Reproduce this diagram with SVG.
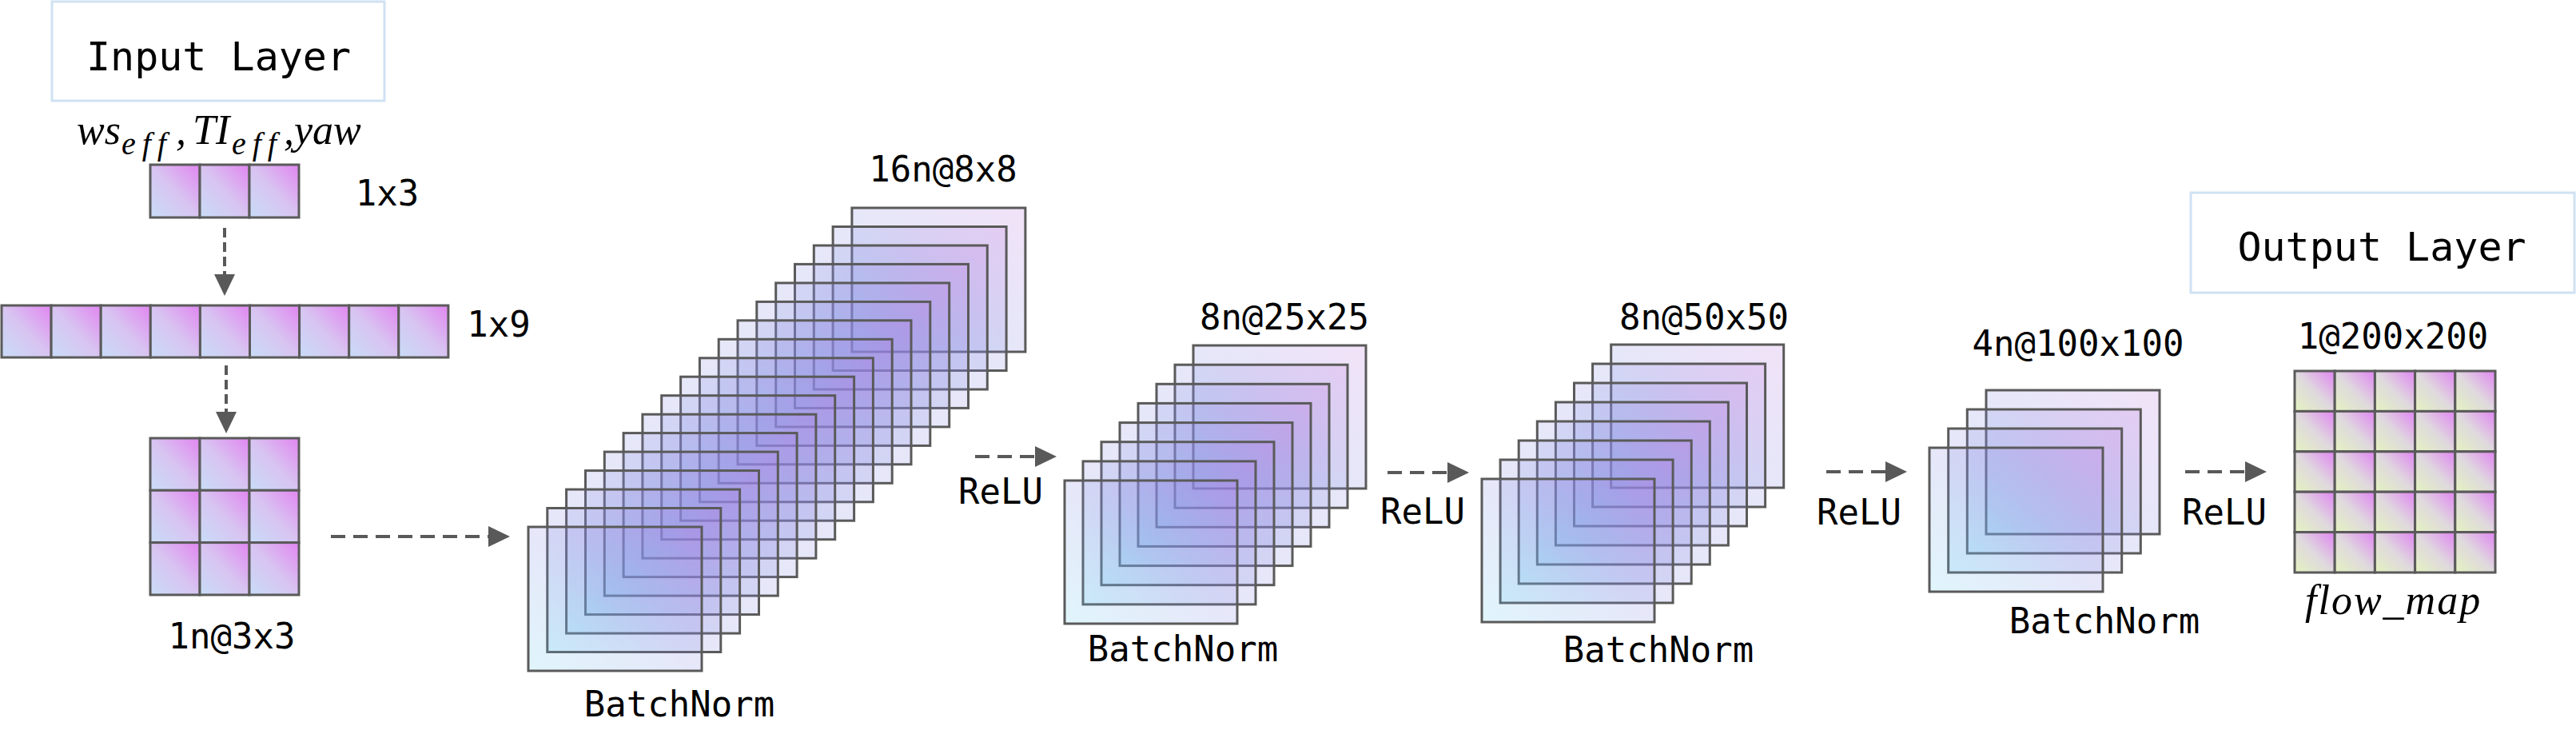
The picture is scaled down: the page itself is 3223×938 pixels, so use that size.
<svg xmlns="http://www.w3.org/2000/svg" width="3223" height="938" viewBox="0 0 3223 938">
<defs>
<style>
.lb{font-family:"DejaVu Sans Mono",monospace;font-size:44px;fill:#000;text-anchor:middle}
.tt{font-family:"DejaVu Sans Mono",monospace;font-size:50px;fill:#000;text-anchor:middle}
.m{font-family:"Liberation Serif","Times New Roman",serif;font-style:italic;fill:#000}
.box{fill:#fff;stroke:#cfe2f3;stroke-width:3}
.ci{fill:url(#gIn);stroke:#5a5a5a;stroke-width:3}
.co{fill:url(#gOut);stroke:#5a5a5a;stroke-width:3}
.fm{fill:url(#gMap);stroke:#5a5a5a;stroke-width:3}
.ar{fill:none;stroke:#595959;stroke-width:4;stroke-dasharray:18 10;marker-end:url(#ah)}
.av{fill:none;stroke:#595959;stroke-width:4;stroke-dasharray:12 6;marker-end:url(#ah)}
</style>
<linearGradient id="gIn" x1="0" y1="1" x2="1" y2="0">
<stop offset="0" stop-color="#c8dcf7"/>
<stop offset="0.5" stop-color="#d8c4f1"/>
<stop offset="1" stop-color="#e185f0"/>
</linearGradient>
<linearGradient id="gOut" x1="0" y1="1" x2="1" y2="0">
<stop offset="0" stop-color="#e3f3c0"/>
<stop offset="0.5" stop-color="#dfd8de"/>
<stop offset="1" stop-color="#e084f2"/>
</linearGradient>
<linearGradient id="gMap" x1="0" y1="1" x2="1" y2="0">
<stop offset="0" stop-color="#64cdf0" stop-opacity="0.2"/>
<stop offset="0.5" stop-color="#8287e1" stop-opacity="0.2"/>
<stop offset="1" stop-color="#b96edc" stop-opacity="0.2"/>
</linearGradient>
<marker id="ah" markerUnits="userSpaceOnUse" markerWidth="27" markerHeight="26" refX="17" refY="13" orient="auto" viewBox="0 0 27 26">
<path d="M0,0 L27,13 L0,26 z" fill="#595959"/>
</marker>
</defs>
<rect width="3223" height="938" fill="#fff"/>

<g id="input-layer">
<rect class="box" x="65" y="2" width="416" height="124"/>
<text class="tt" x="273.5" y="88">Input Layer</text>
</g>

<g id="input-vars">
<text class="m" y="180"><tspan x="96" font-size="52">ws</tspan><tspan x="152" y="193" font-size="40" letter-spacing="8">eff</tspan><tspan x="220" y="180" font-size="52">,</tspan><tspan x="241" font-size="52">TI</tspan><tspan x="290" y="193" font-size="40" letter-spacing="8">eff</tspan><tspan x="355" y="180" font-size="52">,</tspan><tspan x="368" font-size="52">yaw</tspan></text>
</g>

<g id="vec1x3">
<rect class="ci" x="188" y="206" width="62" height="66"/>
<rect class="ci" x="250" y="206" width="62" height="66"/>
<rect class="ci" x="312" y="206" width="62" height="66"/>
<text class="lb" x="484.5" y="257">1x3</text>
</g>

<g id="vec1x9">
<rect class="ci" x="2" y="382" width="62.1" height="65"/>
<rect class="ci" x="64.1" y="382" width="62.1" height="65"/>
<rect class="ci" x="126.2" y="382" width="62.1" height="65"/>
<rect class="ci" x="188.3" y="382" width="62.1" height="65"/>
<rect class="ci" x="250.4" y="382" width="62.1" height="65"/>
<rect class="ci" x="312.5" y="382" width="62.1" height="65"/>
<rect class="ci" x="374.6" y="382" width="62.1" height="65"/>
<rect class="ci" x="436.7" y="382" width="62.1" height="65"/>
<rect class="ci" x="498.8" y="382" width="62.1" height="65"/>
<text class="lb" x="624" y="421">1x9</text>
</g>

<g id="grid3x3">
<rect class="ci" x="188" y="548" width="62" height="65.3"/>
<rect class="ci" x="250" y="548" width="62" height="65.3"/>
<rect class="ci" x="312" y="548" width="62" height="65.3"/>
<rect class="ci" x="188" y="613.3" width="62" height="65.3"/>
<rect class="ci" x="250" y="613.3" width="62" height="65.3"/>
<rect class="ci" x="312" y="613.3" width="62" height="65.3"/>
<rect class="ci" x="188" y="678.6" width="62" height="65.4"/>
<rect class="ci" x="250" y="678.6" width="62" height="65.4"/>
<rect class="ci" x="312" y="678.6" width="62" height="65.4"/>
<text class="lb" x="290" y="811">1n@3x3</text>
</g>

<g id="stack-16n">
<rect class="fm" x="1065.9" y="260.0" width="217" height="180"/>
<rect class="fm" x="1042.1" y="283.5" width="217" height="180"/>
<rect class="fm" x="1018.3" y="307.0" width="217" height="180"/>
<rect class="fm" x="994.5" y="330.4" width="217" height="180"/>
<rect class="fm" x="970.7" y="353.9" width="217" height="180"/>
<rect class="fm" x="946.8" y="377.4" width="217" height="180"/>
<rect class="fm" x="923.0" y="400.8" width="217" height="180"/>
<rect class="fm" x="899.2" y="424.3" width="217" height="180"/>
<rect class="fm" x="875.4" y="447.8" width="217" height="180"/>
<rect class="fm" x="851.6" y="471.2" width="217" height="180"/>
<rect class="fm" x="827.7" y="494.7" width="217" height="180"/>
<rect class="fm" x="803.9" y="518.2" width="217" height="180"/>
<rect class="fm" x="780.1" y="541.6" width="217" height="180"/>
<rect class="fm" x="756.3" y="565.1" width="217" height="180"/>
<rect class="fm" x="732.5" y="588.6" width="217" height="180"/>
<rect class="fm" x="708.6" y="612.1" width="217" height="180"/>
<rect class="fm" x="684.8" y="635.5" width="217" height="180"/>
<rect class="fm" x="661.0" y="659.0" width="217" height="180"/>
<text class="lb" x="1180" y="227">16n@8x8</text>
<text class="lb" x="850" y="896">BatchNorm</text>
</g>

<g id="stack-8n-25">
<rect class="fm" x="1493" y="432" width="216" height="179"/>
<rect class="fm" x="1470" y="456.2" width="216" height="179"/>
<rect class="fm" x="1447" y="480.3" width="216" height="179"/>
<rect class="fm" x="1424" y="504.4" width="216" height="179"/>
<rect class="fm" x="1401" y="528.6" width="216" height="179"/>
<rect class="fm" x="1378" y="552.7" width="216" height="179"/>
<rect class="fm" x="1355" y="576.9" width="216" height="179"/>
<rect class="fm" x="1332" y="601" width="216" height="179"/>
<text class="lb" x="1607" y="412">8n@25x25</text>
<text class="lb" x="1480" y="827">BatchNorm</text>
</g>

<g id="stack-8n-50">
<rect class="fm" x="2015.7" y="431" width="216" height="179"/>
<rect class="fm" x="1992.6" y="455" width="216" height="179"/>
<rect class="fm" x="1969.5" y="479" width="216" height="179"/>
<rect class="fm" x="1946.4" y="503" width="216" height="179"/>
<rect class="fm" x="1923.3" y="527" width="216" height="179"/>
<rect class="fm" x="1900.2" y="551" width="216" height="179"/>
<rect class="fm" x="1877.1" y="575" width="216" height="179"/>
<rect class="fm" x="1854" y="599" width="216" height="179"/>
<text class="lb" x="2132" y="412">8n@50x50</text>
<text class="lb" x="2075" y="828">BatchNorm</text>
</g>

<g id="stack-4n">
<rect class="fm" x="2485" y="488" width="217" height="180"/>
<rect class="fm" x="2461.3" y="512" width="217" height="180"/>
<rect class="fm" x="2437.7" y="536" width="217" height="180"/>
<rect class="fm" x="2414" y="560" width="217" height="180"/>
<text class="lb" x="2600" y="445">4n@100x100</text>
<text class="lb" x="2633" y="792">BatchNorm</text>
</g>

<g id="output-layer">
<rect class="box" x="2741" y="241" width="480" height="125"/>
<text class="tt" x="2980" y="326">Output Layer</text>
</g>

<g id="output-grid">
<rect class="co" x="2871" y="464" width="50.2" height="50.4"/>
<rect class="co" x="2921.2" y="464" width="50.2" height="50.4"/>
<rect class="co" x="2971.4" y="464" width="50.2" height="50.4"/>
<rect class="co" x="3021.6" y="464" width="50.2" height="50.4"/>
<rect class="co" x="3071.8" y="464" width="50.2" height="50.4"/>
<rect class="co" x="2871" y="514.4" width="50.2" height="50.4"/>
<rect class="co" x="2921.2" y="514.4" width="50.2" height="50.4"/>
<rect class="co" x="2971.4" y="514.4" width="50.2" height="50.4"/>
<rect class="co" x="3021.6" y="514.4" width="50.2" height="50.4"/>
<rect class="co" x="3071.8" y="514.4" width="50.2" height="50.4"/>
<rect class="co" x="2871" y="564.8" width="50.2" height="50.4"/>
<rect class="co" x="2921.2" y="564.8" width="50.2" height="50.4"/>
<rect class="co" x="2971.4" y="564.8" width="50.2" height="50.4"/>
<rect class="co" x="3021.6" y="564.8" width="50.2" height="50.4"/>
<rect class="co" x="3071.8" y="564.8" width="50.2" height="50.4"/>
<rect class="co" x="2871" y="615.2" width="50.2" height="50.4"/>
<rect class="co" x="2921.2" y="615.2" width="50.2" height="50.4"/>
<rect class="co" x="2971.4" y="615.2" width="50.2" height="50.4"/>
<rect class="co" x="3021.6" y="615.2" width="50.2" height="50.4"/>
<rect class="co" x="3071.8" y="615.2" width="50.2" height="50.4"/>
<rect class="co" x="2871" y="665.6" width="50.2" height="50.4"/>
<rect class="co" x="2921.2" y="665.6" width="50.2" height="50.4"/>
<rect class="co" x="2971.4" y="665.6" width="50.2" height="50.4"/>
<rect class="co" x="3021.6" y="665.6" width="50.2" height="50.4"/>
<rect class="co" x="3071.8" y="665.6" width="50.2" height="50.4"/>
<text class="lb" x="2994" y="436">1@200x200</text>
<text class="m" x="2884" y="768" font-size="52" letter-spacing="2">flow_map</text>
</g>

<g id="connectors">
<line class="av" x1="281" y1="285" x2="281" y2="360"/>
<line class="av" x1="283" y1="457" x2="283" y2="532"/>
<line class="ar" x1="414" y1="671" x2="628" y2="671"/>
<line class="ar" x1="1220" y1="571" x2="1312" y2="571"/>
<line class="ar" x1="1736" y1="591" x2="1828" y2="591"/>
<line class="ar" x1="2285" y1="590" x2="2376" y2="590"/>
<line class="ar" x1="2734" y1="590" x2="2826" y2="590"/>
<text class="lb" x="1252" y="630">ReLU</text>
<text class="lb" x="1780" y="655">ReLU</text>
<text class="lb" x="2326" y="656">ReLU</text>
<text class="lb" x="2783" y="656">ReLU</text>
</g>
</svg>
